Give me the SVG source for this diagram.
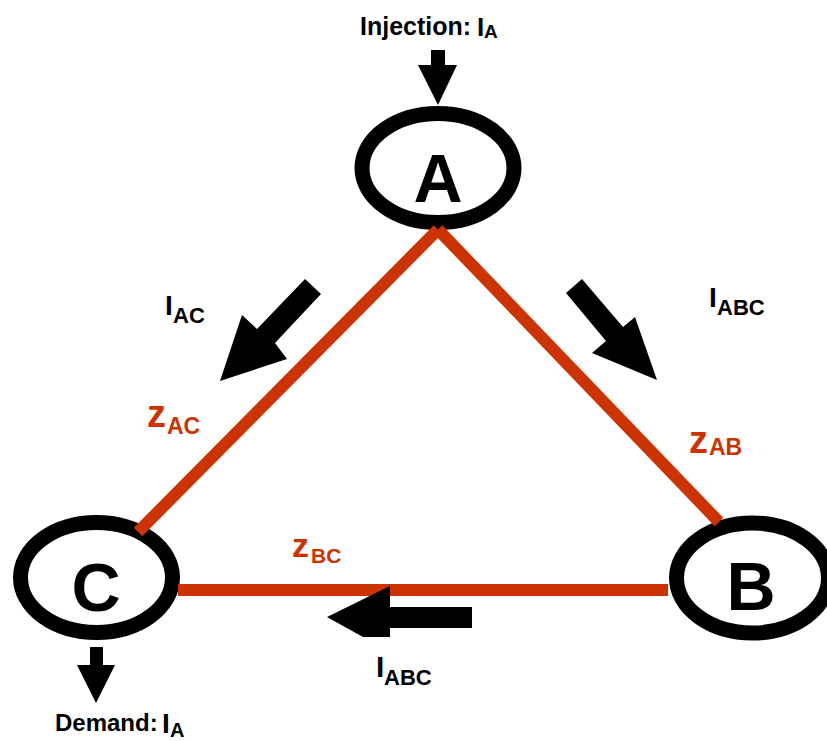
<svg xmlns="http://www.w3.org/2000/svg" width="827" height="741" viewBox="0 0 827 741">
<style>
  .node { fill: #ffffff; stroke: #000000; stroke-width: 15; }
  .letter { font-family: "Liberation Sans", Arial, sans-serif; font-weight: bold; font-size: 68px; fill: #000; text-anchor: middle; }
  .edge { stroke: #CC3300; stroke-width: 12; stroke-linecap: butt; fill: none; }
  .arrow { fill: #000000; }
  .lbl { font-family: "Liberation Sans", Arial, sans-serif; font-weight: bold; fill: #000; }
  .z { font-family: "Liberation Sans", Arial, sans-serif; font-weight: bold; fill: #CC3300; }
</style>
<rect x="0" y="0" width="827" height="741" fill="#ffffff"/>

<g id="node-A">
  <ellipse class="node" cx="438" cy="168" rx="76" ry="54.5"/>
  <text class="letter" x="438" y="202">A</text>
</g>
<g id="node-C">
  <ellipse class="node" cx="96.5" cy="577.5" rx="76" ry="55"/>
  <text class="letter" x="96" y="611">C</text>
</g>
<g id="node-B">
  <ellipse class="node" cx="752.5" cy="578" rx="76" ry="55"/>
  <text class="letter" x="751" y="610">B</text>
</g>

<g id="connectors">
  <line class="edge" x1="438" y1="229.5" x2="138" y2="532"/>
  <line class="edge" x1="438" y1="229.5" x2="719" y2="522"/>
  <line class="edge" x1="668" y1="590" x2="178" y2="590"/>
</g>

<g id="arrows">
  <polygon class="arrow" points="431,50 445,50 445,65 457,65 438,105 418,65 431,65"/>
  <polygon class="arrow" points="90,647 103,647 103,665 115,665 96,703 77,665 90,665"/>
  <polygon class="arrow" points="305,279 321,294 275,343 287,359 220,381 242,315 257,329"/>
  <polygon class="arrow" points="566,293 582,279 623,327 635,317 657,380 592,353 606,341"/>
  <polygon class="arrow" points="472,607 390,607 390,586 327,617 363,637 390,637 390,628 472,628"/>
</g>

<g id="labels">
  <text class="lbl" x="360" y="35" font-size="25">Injection:</text>
  <text class="lbl" x="477" y="36" font-size="26">I</text>
  <text class="lbl" x="484" y="38" font-size="19">A</text>

  <text class="lbl" x="55" y="731" font-size="24">Demand:</text>
  <text class="lbl" x="162" y="733" font-size="28">I</text>
  <text class="lbl" x="170" y="737" font-size="20">A</text>

  <text class="lbl" x="165" y="315" font-size="28">I</text>
  <text class="lbl" x="173" y="323" font-size="22">AC</text>

  <text class="lbl" x="709" y="307" font-size="28">I</text>
  <text class="lbl" x="717" y="315" font-size="22">ABC</text>

  <text class="lbl" x="376" y="677" font-size="30">I</text>
  <text class="lbl" x="384" y="685" font-size="22">ABC</text>

  <text class="z" x="147" y="427" font-size="38">z</text>
  <text class="z" x="167" y="434" font-size="23">AC</text>

  <text class="z" x="689" y="453" font-size="38">z</text>
  <text class="z" x="709" y="455" font-size="23">AB</text>

  <text class="z" x="292" y="557" font-size="34">z</text>
  <text class="z" x="311" y="563" font-size="21">BC</text>
</g>
</svg>
